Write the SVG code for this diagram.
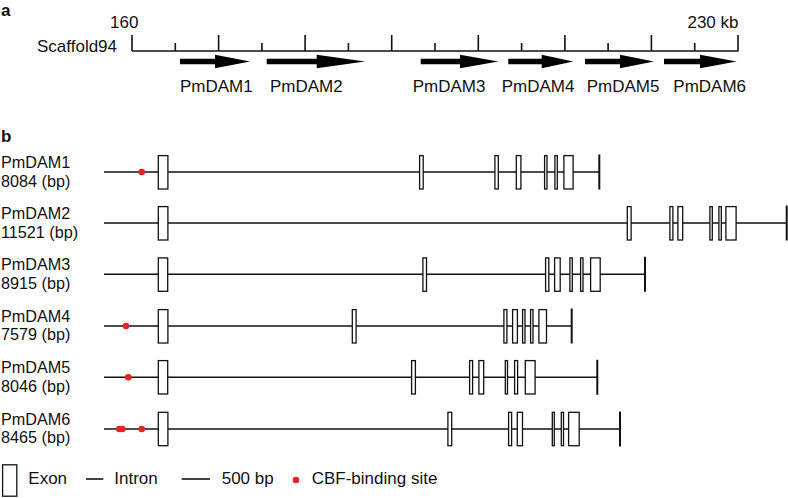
<svg xmlns="http://www.w3.org/2000/svg" width="788" height="498" viewBox="0 0 788 498">
<style>
text{font-family:"Liberation Sans",Arial,sans-serif;font-size:17px;fill:#111}
.lab{font-size:16.2px}
.bold{font-weight:bold;font-size:17px}
.ln{stroke:#111;stroke-width:1.6;fill:none}
.tick{stroke:#111;stroke-width:2}
.ex{fill:#fff;stroke:#111;stroke-width:1.3}
.dot{fill:#e3231f}
.arr{fill:#000}
</style>
<rect width="788" height="498" fill="#fff"/>
<g id="panel-a">
<text class="bold" x="1" y="15.5">a</text>
<text x="110" y="27.5">160</text>
<text x="738.5" y="27.5" text-anchor="end">230 kb</text>
<text x="37" y="52">Scaffold94</text>
<path class="ln" d="M132,51H738.5M132,35V51M218.6,35V51M305.1,35V51M391.7,35V51M478.3,35V51M564.9,35V51M651.4,35V51M738,35V51M175.3,43V51M261.9,43V51M348.4,43V51M435,43V51M521.6,43V51M608.1,43V51M694.7,43V51"/>
<g id="arrow1"><polygon class="arr" points="180,58.8 215,58.8 215,54.8 250,61.5 215,68.2 215,64.2 180,64.2"/><text x="180" y="92">PmDAM1</text></g>
<g id="arrow2"><polygon class="arr" points="266.7,58.8 316.7,58.8 316.7,54.8 365,61.5 316.7,68.2 316.7,64.2 266.7,64.2"/><text x="270" y="92">PmDAM2</text></g>
<g id="arrow3"><polygon class="arr" points="420.7,58.8 460,58.8 460,54.8 498.3,61.5 460,68.2 460,64.2 420.7,64.2"/><text x="412.7" y="92">PmDAM3</text></g>
<g id="arrow4"><polygon class="arr" points="508.3,58.8 541.7,58.8 541.7,54.8 573.3,61.5 541.7,68.2 541.7,64.2 508.3,64.2"/><text x="501.7" y="92">PmDAM4</text></g>
<g id="arrow5"><polygon class="arr" points="585,58.8 620,58.8 620,54.8 654,61.5 620,68.2 620,64.2 585,64.2"/><text x="586.7" y="92">PmDAM5</text></g>
<g id="arrow6"><polygon class="arr" points="664,58.8 700,58.8 700,54.8 736.7,61.5 700,68.2 700,64.2 664,64.2"/><text x="673.3" y="92">PmDAM6</text></g>
</g>
<text class="bold" x="1" y="142">b</text>
<g id="gene1">
<text class="lab" x="1" y="168">PmDAM1</text><text class="lab" x="1" y="186.5">8084 (bp)</text>
<path class="ln" d="M104,172H599.3"/><path class="tick" d="M599.3,154.5V189.5"/>
<circle class="dot" cx="141.7" cy="172" r="3.3"/>
<rect class="ex" x="158.3" y="155.6" width="9.6" height="33.4"/>
<rect class="ex" x="419.6" y="155.6" width="3.6" height="33.4"/>
<rect class="ex" x="494.9" y="155.6" width="3.4" height="33.4"/>
<rect class="ex" x="516.3" y="155.6" width="4.6" height="33.4"/>
<rect class="ex" x="544.6" y="155.6" width="2.4" height="33.4"/>
<rect class="ex" x="554.9" y="155.6" width="2.4" height="33.4"/>
<rect class="ex" x="563.9" y="155.6" width="9.2" height="33.4"/>
</g>
<g id="gene2">
<text class="lab" x="1" y="219">PmDAM2</text><text class="lab" x="1" y="237.5">11521 (bp)</text>
<path class="ln" d="M104,223H786.7"/><path class="tick" d="M786.7,205.5V240.5"/>
<rect class="ex" x="158.3" y="206.6" width="9.6" height="33.4"/>
<rect class="ex" x="627.3" y="206.6" width="3.8" height="33.4"/>
<rect class="ex" x="669.9" y="206.6" width="3" height="33.4"/>
<rect class="ex" x="677.9" y="206.6" width="4.8" height="33.4"/>
<rect class="ex" x="709.9" y="206.6" width="2.4" height="33.4"/>
<rect class="ex" x="718.9" y="206.6" width="2.4" height="33.4"/>
<rect class="ex" x="725.9" y="206.6" width="10.2" height="33.4"/>
</g>
<g id="gene3">
<text class="lab" x="1" y="270">PmDAM3</text><text class="lab" x="1" y="288.5">8915 (bp)</text>
<path class="ln" d="M104,274.3H645"/><path class="tick" d="M645,256.8V291.8"/>
<rect class="ex" x="158.3" y="257.9" width="9.4" height="33.4"/>
<rect class="ex" x="422.9" y="257.9" width="3.6" height="33.4"/>
<rect class="ex" x="545.6" y="257.9" width="3.2" height="33.4"/>
<rect class="ex" x="554.6" y="257.9" width="5.6" height="33.4"/>
<rect class="ex" x="569.9" y="257.9" width="2.4" height="33.4"/>
<rect class="ex" x="580.6" y="257.9" width="2.4" height="33.4"/>
<rect class="ex" x="590.6" y="257.9" width="9.6" height="33.4"/>
</g>
<g id="gene4">
<text class="lab" x="1" y="321.5">PmDAM4</text><text class="lab" x="1" y="340">7579 (bp)</text>
<path class="ln" d="M104,326H571.7"/><path class="tick" d="M571.7,308.5V343.5"/>
<circle class="dot" cx="126" cy="326" r="3.3"/>
<rect class="ex" x="158.3" y="309.6" width="9.6" height="33.4"/>
<rect class="ex" x="352.3" y="309.6" width="3.8" height="33.4"/>
<rect class="ex" x="503.9" y="309.6" width="3" height="33.4"/>
<rect class="ex" x="512.6" y="309.6" width="4.8" height="33.4"/>
<rect class="ex" x="522.6" y="309.6" width="2.4" height="33.4"/>
<rect class="ex" x="530.6" y="309.6" width="2.4" height="33.4"/>
<rect class="ex" x="538.9" y="309.6" width="7.6" height="33.4"/>
</g>
<g id="gene5">
<text class="lab" x="1" y="373">PmDAM5</text><text class="lab" x="1" y="391.5">8046 (bp)</text>
<path class="ln" d="M104,377.3H597.3"/><path class="tick" d="M597.3,359.8V394.8"/>
<circle class="dot" cx="128.3" cy="377.3" r="3.3"/>
<rect class="ex" x="158.3" y="360.6" width="9.4" height="33.4"/>
<rect class="ex" x="411.6" y="360.6" width="3.8" height="33.4"/>
<rect class="ex" x="469.6" y="360.6" width="3" height="33.4"/>
<rect class="ex" x="478.9" y="360.6" width="4.8" height="33.4"/>
<rect class="ex" x="505.3" y="360.6" width="2.2" height="33.4"/>
<rect class="ex" x="514.6" y="360.6" width="3" height="33.4"/>
<rect class="ex" x="525.3" y="360.6" width="9.8" height="33.4"/>
</g>
<g id="gene6">
<text class="lab" x="1" y="424.5">PmDAM6</text><text class="lab" x="1" y="443">8465 (bp)</text>
<path class="ln" d="M104,429H620"/><path class="tick" d="M620,411.5V446.5"/>
<circle class="dot" cx="119.2" cy="429" r="3.3"/>
<circle class="dot" cx="122.4" cy="429" r="3.3"/>
<circle class="dot" cx="141.7" cy="429" r="3.3"/>
<rect class="ex" x="158.3" y="412.3" width="9.6" height="33.4"/>
<rect class="ex" x="447.9" y="412.3" width="3.8" height="33.4"/>
<rect class="ex" x="508.6" y="412.3" width="3" height="33.4"/>
<rect class="ex" x="517.3" y="412.3" width="5.2" height="33.4"/>
<rect class="ex" x="552.3" y="412.3" width="2" height="33.4"/>
<rect class="ex" x="561.3" y="412.3" width="2.2" height="33.4"/>
<rect class="ex" x="568.6" y="412.3" width="10.6" height="33.4"/>
</g>
<g id="legend">
<rect class="ex" x="2.6" y="464.8" width="14.2" height="31.4"/>
<text x="28.3" y="484">Exon</text>
<path class="ln" d="M86,479H103.3"/>
<text x="114.3" y="484">Intron</text>
<path class="ln" d="M181.7,479H210"/>
<text x="221.7" y="484">500 bp</text>
<circle class="dot" cx="296" cy="480" r="3.3"/>
<text x="311.7" y="484">CBF-binding site</text>
</g>
</svg>
